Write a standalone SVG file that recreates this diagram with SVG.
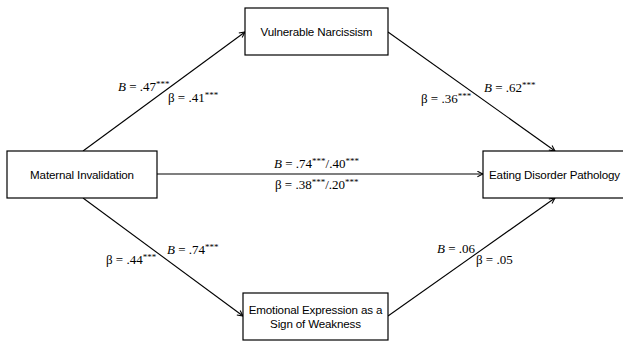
<svg xmlns="http://www.w3.org/2000/svg" width="623" height="343" viewBox="0 0 623 343">
<defs>
<marker id="arr" viewBox="0 0 10 10" refX="9" refY="5" markerWidth="7" markerHeight="7" orient="auto" markerUnits="userSpaceOnUse">
<path d="M1,1 L9,5 L1,9" fill="none" stroke="#000" stroke-width="1.5"/>
</marker>
<style>
.box{fill:#fff;stroke:#000;stroke-width:1.2}
.nt{font-family:"Liberation Sans",Arial,sans-serif;font-size:11.6px;letter-spacing:-0.15px;fill:#000;text-anchor:middle}
.lb{font-family:"Liberation Serif","Times New Roman",serif;font-size:13px;fill:#000}
.ln{stroke:#000;stroke-width:1.1;fill:none;marker-end:url(#arr)}
.sup{font-size:9px}
</style>
</defs>
<rect width="623" height="343" fill="#fff"/>
<g id="connectors">
<line class="ln" x1="83" y1="151" x2="245" y2="32"/>
<line class="ln" x1="388" y1="32" x2="555" y2="151"/>
<line class="ln" x1="157" y1="174" x2="483" y2="174"/>
<line class="ln" x1="83" y1="198" x2="243" y2="316"/>
<line class="ln" x1="388" y1="316" x2="555" y2="198"/>
</g>
<g id="labels">
<text class="lb" x="118" y="91"><tspan font-style="italic">B</tspan> = .47<tspan class="sup" dy="-4">***</tspan></text>
<text class="lb" x="168" y="102">β = .41<tspan class="sup" dy="-4">***</tspan></text>
<text class="lb" x="421" y="103">β = .36<tspan class="sup" dy="-4">***</tspan></text>
<text class="lb" x="484" y="92"><tspan font-style="italic">B</tspan> = .62<tspan class="sup" dy="-4">***</tspan></text>
<text class="lb" x="274" y="168"><tspan font-style="italic">B</tspan> = .74<tspan class="sup" dy="-4">***</tspan><tspan dy="4">/.40</tspan><tspan class="sup" dy="-4">***</tspan></text>
<text class="lb" x="275" y="189">β = .38<tspan class="sup" dy="-4">***</tspan><tspan dy="4">/.20</tspan><tspan class="sup" dy="-4">***</tspan></text>
<text class="lb" x="106" y="264">β = .44<tspan class="sup" dy="-4">***</tspan></text>
<text class="lb" x="167" y="254"><tspan font-style="italic">B</tspan> = .74<tspan class="sup" dy="-4">***</tspan></text>
<text class="lb" x="437" y="253"><tspan font-style="italic">B</tspan> = .06</text>
<text class="lb" x="476" y="264">β = .05</text>
</g>
<g id="vn">
<rect class="box" x="245" y="8" width="143" height="47"/>
<text class="nt" x="316.5" y="36">Vulnerable Narcissism</text>
</g>
<g id="mi">
<rect class="box" x="7" y="151" width="150" height="47"/>
<text class="nt" x="82" y="179">Maternal Invalidation</text>
</g>
<g id="edp">
<rect class="box" x="483" y="151" width="145" height="47"/>
<text class="nt" x="554.5" y="179">Eating Disorder Pathology</text>
</g>
<g id="ee">
<rect class="box" x="243" y="293" width="145" height="47"/>
<text class="nt" x="315.5" y="314">Emotional Expression as a</text>
<text class="nt" x="315.5" y="328">Sign of Weakness</text>
</g>
</svg>
